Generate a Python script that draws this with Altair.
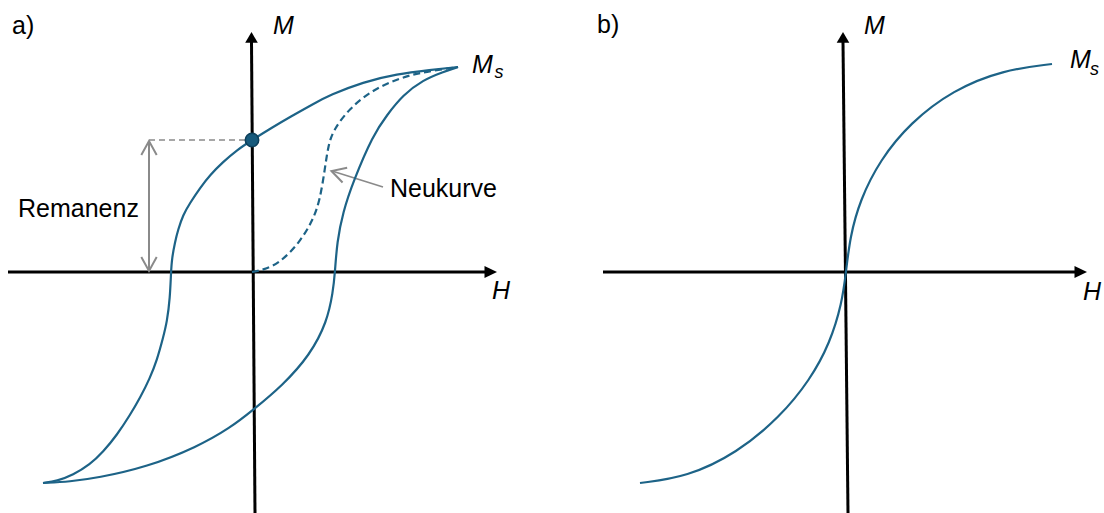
import altair as alt
import pandas as pd

TEAL = "#1d6387"
DOT_FILL = "#175a7c"
DOT_EDGE = "#0d3f5a"
GREY = "#8a8a8a"
FONT = "Liberation Sans"

# ---- panel a: hysteresis loop (H, M in arbitrary units) ----
# descending branch, from saturation down to negative saturation
down_H = [1.03, 0.89, 0.725, 0.555, 0.39, 0.305, 0.19, 0.105, 0.0, -0.075, -0.145,
          -0.21, -0.26, -0.31, -0.345, -0.37, -0.385, -0.40, -0.405, -0.41, -0.425,
          -0.445, -0.475, -0.51, -0.56, -0.61, -0.675, -0.745, -0.81, -0.895, -0.975, -1.045]
down_M = [1.025, 1.01, 0.99, 0.95, 0.885, 0.84, 0.775, 0.725, 0.66, 0.61, 0.55,
          0.485, 0.42, 0.345, 0.285, 0.21, 0.15, 0.07, 0.0, -0.13, -0.25,
          -0.33, -0.44, -0.53, -0.63, -0.715, -0.815, -0.90, -0.9625, -1.015, -1.045, -1.055]
# ascending branch, from negative saturation back up
up_H = [-1.045, -0.91, -0.775, -0.525, -0.275, -0.11, 0.005, 0.155, 0.29, 0.375,
        0.405, 0.415, 0.425, 0.455, 0.505, 0.605, 0.675, 0.755, 0.855, 0.955, 1.03]
up_M = [-1.055, -1.048, -1.03, -0.975, -0.875, -0.78, -0.69, -0.565, -0.415, -0.25,
        -0.10, 0.0, 0.15, 0.30, 0.45, 0.685, 0.785, 0.885, 0.96, 1.0, 1.025]
# initial magnetisation curve (Neukurve)
virgin_H = [0.0, 0.055, 0.14, 0.24, 0.305, 0.34, 0.365, 0.38, 0.405, 0.49,
            0.59, 0.69, 0.79, 0.89, 1.03]
virgin_M = [0.0, 0.01, 0.045, 0.15, 0.26, 0.36, 0.52, 0.625, 0.71, 0.82,
            0.90, 0.95, 0.985, 1.005, 1.025]
remanence_M = 0.66

# ---- panel b: curve without hysteresis ----
soft_H = [-1.025, -0.79, -0.54, -0.325, -0.175, -0.075, -0.015, 0.005, 0.025, 0.075,
          0.175, 0.325, 0.54, 0.79, 1.035]
soft_M = [-1.055, -1.025, -0.905, -0.725, -0.54, -0.355, -0.155, 0.0, 0.175, 0.36,
          0.56, 0.745, 0.91, 1.01, 1.04]

# arrowhead glyphs (tip at the anchor point)
UP_HEAD = "M0,0L-0.63,1.07L0.63,1.07Z"
RIGHT_HEAD = "M0,0L-1.25,-0.6L-1.25,0.6Z"
CHEVRON = "M-0.55,1L0,0L0.55,1"


def curve_df(h, m):
    return pd.DataFrame({"H": h, "M": m, "i": list(range(len(h)))})


def pos(xs, ys):
    return dict(x=alt.X("H:Q", scale=xs, axis=None), y=alt.Y("M:Q", scale=ys, axis=None))


def rules(df, xs, ys, **mark):
    return alt.Chart(df).mark_rule(**mark).encode(
        x=alt.X("H:Q", scale=xs, axis=None), y=alt.Y("M:Q", scale=ys, axis=None),
        x2="H2:Q", y2="M2:Q")


def line(h, m, xs, ys, **mark):
    return alt.Chart(curve_df(h, m)).mark_line(
        interpolate="basis", color=TEAL, strokeWidth=2.2, **mark
    ).encode(order="i:Q", **pos(xs, ys))


def heads(df, xs, ys, shape, size):
    return alt.Chart(df).mark_point(
        shape=shape, filled=True, color="black", opacity=1, size=size
    ).encode(**pos(xs, ys))


def texts(df, xs, ys, size=25, italic=False):
    kw = dict(fontStyle="italic") if italic else {}
    return alt.Chart(df).mark_text(
        align="left", baseline="alphabetic", font=FONT, fontSize=size, color="black", **kw
    ).encode(text="label:N", **pos(xs, ys))


def axes(xs, ys, h_start, h_tip, m_bottom, m_top):
    (hb, mb), (ht, mt) = m_bottom, m_top
    ax = pd.DataFrame({"H": [h_start, hb], "M": [0.0, mb],
                       "H2": [h_tip - 0.06, ht], "M2": [0.0, mt - 0.05]})
    return [
        rules(ax, xs, ys, color="black", strokeWidth=3),
        heads(pd.DataFrame({"H": [h_tip], "M": [0.0]}), xs, ys, RIGHT_HEAD, 400),
        heads(pd.DataFrame({"H": [ht], "M": [mt]}), xs, ys, UP_HEAD, 400),
    ]


# ---------------- panel a ----------------
xa = alt.Scale(domain=[-1.26, 1.5], nice=False, zero=False)
ya = alt.Scale(domain=[-1.205, 1.36], nice=False, zero=False)

rem_dash = pd.DataFrame({"H": [-0.515], "M": [remanence_M], "H2": [-0.03], "M2": [remanence_M]})
rem_bar = pd.DataFrame({"H": [-0.515], "M": [0.007], "H2": [-0.515], "M2": [remanence_M - 0.007]})
pointer = pd.DataFrame({"H": [0.655], "M": [0.425], "H2": [0.40], "M2": [0.505]})
chevrons = pd.DataFrame({"H": [-0.515, -0.515, 0.3975],
                         "M": [remanence_M - 0.005, 0.005, 0.505],
                         "rot": [0, 180, 287.4]})

panel_a = alt.layer(
    *axes(xa, ya, -1.22, 1.225, (0.015, -1.205), (-0.0025, 1.2)),
    rules(rem_dash, xa, ya, color=GREY, strokeWidth=1.5, strokeDash=[6, 4]),
    rules(rem_bar, xa, ya, color=GREY, strokeWidth=2),
    rules(pointer, xa, ya, color=GREY, strokeWidth=1.6),
    alt.Chart(chevrons).mark_point(
        shape=CHEVRON, filled=False, color=GREY, strokeWidth=2, opacity=1, size=784
    ).encode(angle=alt.Angle("rot:Q", scale=None), **pos(xa, ya)),
    line(down_H, down_M, xa, ya),
    line(up_H, up_M, xa, ya),
    line(virgin_H, virgin_M, xa, ya, strokeDash=[7, 4]),
    alt.Chart(pd.DataFrame({"H": [0.0], "M": [remanence_M]})).mark_point(
        shape="circle", filled=True, fill=DOT_FILL, stroke=DOT_EDGE, strokeWidth=1.5,
        opacity=1, size=180
    ).encode(**pos(xa, ya)),
    texts(pd.DataFrame({"H": [-1.2, -1.17, 0.69], "M": [1.19, 0.275, 0.375],
                        "label": ["a)", "Remanenz", "Neukurve"]}), xa, ya),
    texts(pd.DataFrame({"H": [0.105, 1.1, 1.2], "M": [1.19, 0.995, -0.135],
                        "label": ["M", "M", "H"]}), xa, ya, italic=True),
    texts(pd.DataFrame({"H": [1.213], "M": [0.97], "label": ["s"]}), xa, ya,
          size=18, italic=True),
).properties(width=552, height=513)

# ---------------- panel b ----------------
xb = alt.Scale(domain=[-1.465, 1.295], nice=False, zero=False)
yb = ya

panel_b = alt.layer(
    *axes(xb, yb, -1.21, 1.21, (0.015, -1.205), (-0.01, 1.2)),
    line(soft_H, soft_M, xb, yb),
    texts(pd.DataFrame({"H": [-1.24], "M": [1.195], "label": ["b)"]}), xb, yb),
    texts(pd.DataFrame({"H": [0.095, 1.125, 1.19], "M": [1.19, 1.02, -0.14],
                        "label": ["M", "M", "H"]}), xb, yb, italic=True),
    texts(pd.DataFrame({"H": [1.225], "M": [0.985], "label": ["s"]}), xb, yb,
          size=18, italic=True),
).properties(width=552, height=513)

chart = alt.hconcat(panel_a, panel_b, spacing=0).properties(
    padding=0
).configure_view(strokeWidth=0)

chart.save("out.html", embed_options={"renderer": "svg", "actions": False})
